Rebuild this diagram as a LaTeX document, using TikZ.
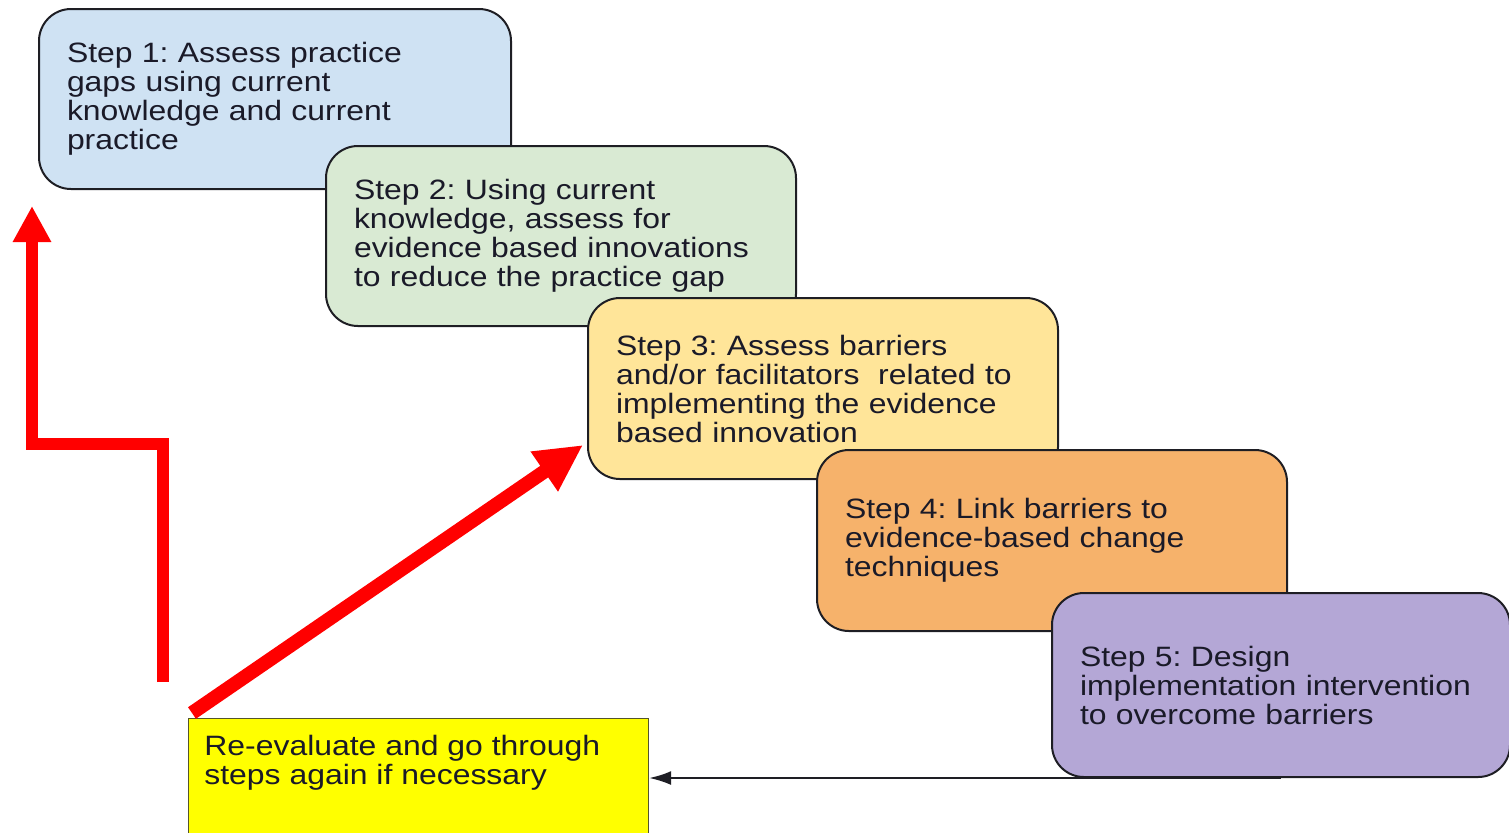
\documentclass[tikz,border=0pt]{standalone}
\usepackage{fontspec}
\setmainfont{Liberation Sans}[FakeStretch=1.14]
\usetikzlibrary{arrows.meta,calc}
\frenchspacing
\definecolor{stepone}{HTML}{CFE2F3}
\definecolor{steptwo}{HTML}{D9EAD3}
\definecolor{stepthree}{HTML}{FFE599}
\definecolor{stepfour}{HTML}{F6B26B}
\definecolor{stepfive}{HTML}{B4A7D6}
\definecolor{boxline}{HTML}{1E1E24}
\definecolor{textdark}{HTML}{1A1A28}
\definecolor{reevalfill}{HTML}{FFFF00}
\definecolor{reevalline}{HTML}{55552A}
\definecolor{loopred}{HTML}{FF0000}
\begin{document}
\begin{tikzpicture}[x=0.5pt,y=-0.5pt,
  stepbox/.style={draw=boxline, line width=1pt, rounded corners=16pt,
    align=left, anchor=north west, inner xsep=14pt, inner ysep=0pt,
    minimum height=90pt, text=textdark,
    font=\fontsize{14pt}{14.5pt}\selectfont},
  redarrow/.style={draw=loopred, line width=6pt, line join=miter,
    -{Triangle[length=18pt,width=18pt]}},
  backarrow/.style={draw=boxline, line width=1pt,
    -{Latex[length=11pt,width=7pt]}}]
\useasboundingbox (0,0) rectangle (1509,832);

% the five steps, each overlapping the one before
\node[stepbox, fill=stepone, text width=208pt] (step1) at (38,8)
  {Step 1: Assess practice\\gaps using current\\knowledge and current\\practice};
\node[stepbox, fill=steptwo, text width=207pt] (step2) at (325,145)
  {Step 2: Using current\\knowledge, assess for\\evidence based innovations\\to reduce the practice gap};
\node[stepbox, fill=stepthree, text width=207pt, minimum height=90.5pt] (step3) at (587,297)
  {Step 3: Assess barriers\\and/or facilitators\ \ related to\\implementing the evidence\\based innovation};
\node[stepbox, fill=stepfour, text width=207pt, minimum height=90.5pt] (step4) at (816,449)
  {Step 4: Link barriers to\\evidence-based change\\techniques};
\node[stepbox, fill=stepfive, text width=201pt, minimum height=92pt] (step5) at (1051,592)
  {Step 5: Design\\implementation intervention\\to overcome barriers};

% re-evaluation box
\node[draw=reevalline, line width=0.6pt, fill=reevalfill, anchor=north west,
  minimum width=230pt, minimum height=70pt, inner sep=0pt] (reeval) at (188,718) {};
\node[anchor=north west, align=left, inner sep=0pt, text=textdark,
  font=\fontsize{14pt}{14.5pt}\selectfont] (reevaltext)
  at ($(reeval.north west)+(16,17)$)
  {Re-evaluate and go through\\steps again if necessary};

% return from step 5
\coordinate (backin) at (reeval.east |- step5.south);
\draw[backarrow] (step5.south) -- (backin);

% loop back to step 1
\coordinate (loopstart) at ($(reeval.north west)+(-25,-36)$);
\coordinate (loopbend) at ($(step1.south west)+(-6,254)$);
\coordinate (looptip) at ($(step1.south west)+(-6,16)$);
\draw[redarrow] (loopstart) |- (loopbend) -- (looptip);

% jump back to step 3
\coordinate (jumpstart) at ($(reeval.north west)+(4,-5)$);
\coordinate (jumptip) at ($(step3.south west)+(-4,-35)$);
\draw[redarrow, line width=7pt, -{Triangle[length=23.5pt,width=22.5pt]}]
  (jumpstart) -- (jumptip);
\end{tikzpicture}
\end{document}
